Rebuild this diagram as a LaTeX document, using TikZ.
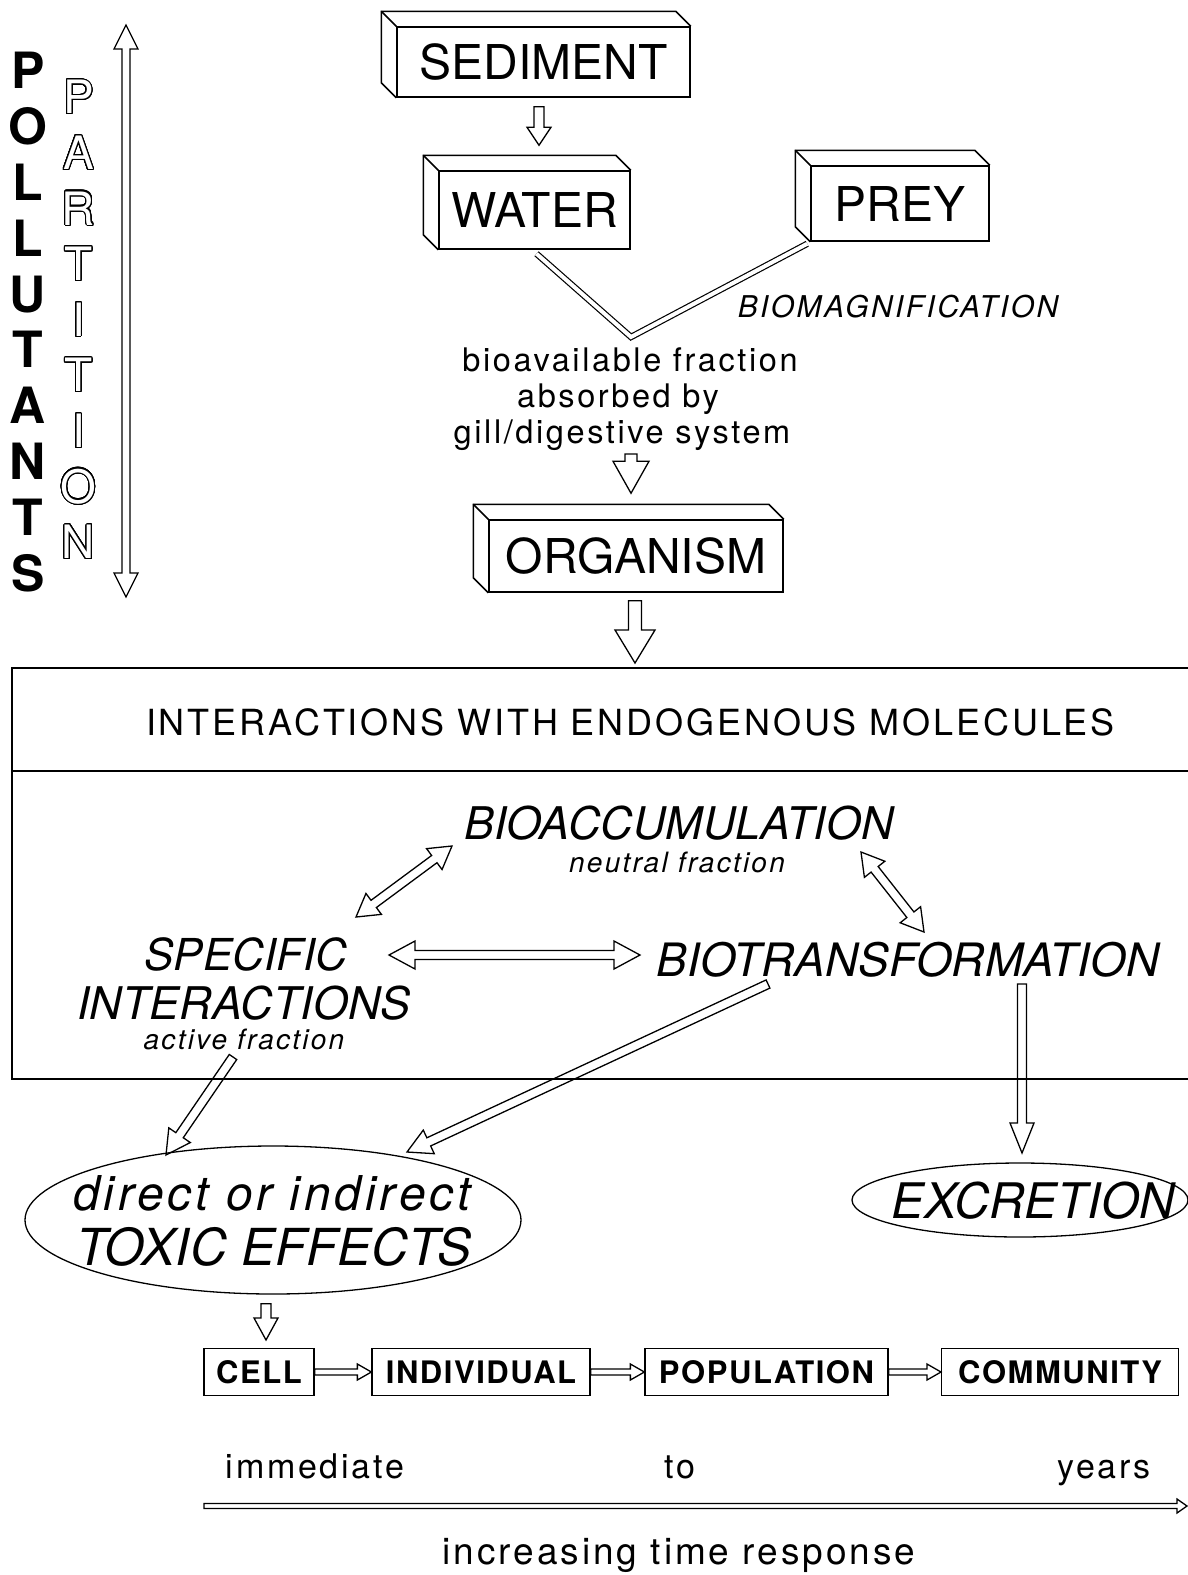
\documentclass[tikz,border=0pt]{standalone}
\usepackage{fontspec}
\usepackage{contour}
\usetikzlibrary{calc,shapes.geometric}
\newfontfamily\hv{TeX Gyre Heros}
\newfontfamily\hvs[LetterSpace=8]{TeX Gyre Heros}
\newfontfamily\hvb[LetterSpace=5]{TeX Gyre Heros}
\contourlength{1.1pt}
\contournumber{32}
\newcommand\fsz[1]{\fontsize{#1}{#1}\selectfont}
\newcommand\outl[1]{\contour{black}{#1}}
\tikzset{
  ln/.style={line width=1.5pt, line join=miter},
  bigbox/.style={draw, line width=1.5pt, inner sep=0pt, font=\hv\fsz{48}},
  lvl/.style={draw, line width=1.3pt, inner sep=0pt, minimum height=47pt, font=\hvb\bfseries\fsz{31}},
  arrline/.style={line width=1.3pt, line join=miter},
  lbl/.style={inner sep=0pt, anchor=base},
  dline/.style={double, double distance=4pt, line width=1.2pt},
  ell/.style={draw, ellipse, line width=1.3pt, inner sep=0pt},
}
\newcommand\boxfaces[1]{%
  \draw[ln] (#1.south west) -- ++(-15,-15) |- ($(#1.north east)+(-15,-15)$) -- (#1.north east);
  \draw[ln] (#1.north west) -- ++(-15,-15);
}
% single block arrow: [opts]{from}{to}{shaft half}{head half}{head length}
\newcommand\blockarrow[6][]{%
  \coordinate (bac) at ($(#3)!#6!(#2)$);
  \draw[arrline,#1] ($(#2)!#4!90:(#3)$) -- ($(bac)!#4!-90:(#2)$) -- ($(bac)!#5!-90:(#2)$) -- (#3)
    -- ($(bac)!#5!90:(#2)$) -- ($(bac)!#4!90:(#2)$) -- ($(#2)!#4!-90:(#3)$) -- cycle;
}
\newcommand\dblockarrow[6][]{%
  \coordinate (bac) at ($(#3)!#6!(#2)$);
  \coordinate (bad) at ($(#2)!#6!(#3)$);
  \draw[arrline,#1] (#2) -- ($(bad)!#5!90:(#3)$) -- ($(bad)!#4!90:(#3)$) -- ($(bac)!#4!-90:(#2)$)
    -- ($(bac)!#5!-90:(#2)$) -- (#3) -- ($(bac)!#5!90:(#2)$) -- ($(bac)!#4!90:(#2)$)
    -- ($(bad)!#4!-90:(#3)$) -- ($(bad)!#5!-90:(#3)$) -- cycle;
}
\begin{document}
\begin{tikzpicture}[x=1pt,y=-1pt]
\useasboundingbox[fill=white] (0,0) rectangle (1188,1575);

% left column
\node[inner sep=0pt, align=center, font=\hv\bfseries\fontsize{50}{55.8}\selectfont] (poll) at (28,322)
  {P\\O\\L\\L\\U\\T\\A\\N\\T\\S};
\node[inner sep=0pt, align=center, text=white, font=\hv\fontsize{46}{55.6}\selectfont] (part) at (78.5,320)
  {\outl{P}\\\outl{A}\\\outl{R}\\\outl{T}\\\outl{I}\\\outl{T}\\\outl{I}\\\outl{O}\\\outl{N}};
\coordinate (pa) at (126,25);
\coordinate (pb) at (126,597);
\dblockarrow{pa}{pb}{4pt}{12pt}{24pt}

% top boxes
\node[bigbox, minimum width=293pt, minimum height=70pt] (sed) at (543.5,62) {SEDIMENT};
\boxfaces{sed}
\node[bigbox, minimum width=191pt, minimum height=78pt] (wat) at (534.5,210) {WATER};
\boxfaces{wat}
\node[bigbox, minimum width=178pt, minimum height=75pt] (prey) at (900,203.5) {PREY};
\boxfaces{prey}

\coordinate (a1s) at ($(sed.south)+(-4.5,9)$);
\coordinate (a1e) at ($(wat.north)+(4.5,-25)$);
\blockarrow{a1s}{a1e}{5pt}{12pt}{18pt}

\coordinate (vw) at ($(wat.south)+(2,4)$);
\coordinate (vp) at ($(prey.south west)+(-3,2)$);
\coordinate (v) at (631,337);
\draw[dline] (vw) -- (v) -- (vp);

\node[lbl, font=\hvs\itshape\fsz{30}] (biomag) at (898,317) {BIOMAGNIFICATION};

\node[lbl, font=\hvs\fsz{32.5}] (t1) at (630,371) {bioavailable fraction};
\node[lbl, font=\hvs\fsz{32.5}] (t2) at (618,407) {absorbed by};
\node[lbl, font=\hvs\fsz{32.5}] (t3) at (622,443) {gill/digestive system};

\node[bigbox, minimum width=294pt, minimum height=72pt] (org) at (636,556) {ORGANISM};
\boxfaces{org}
\coordinate (a2s) at (631,454);
\coordinate (a2e) at ($(org.north)+(-5,-26)$);
\blockarrow{a2s}{a2e}{6pt}{18pt}{32pt}
\coordinate (a3s) at ($(org.south)+(-1,8)$);
\coordinate (a3e) at (635,663);
\blockarrow{a3s}{a3e}{6.5pt}{20pt}{33pt}

% big frame
\coordinate (ftr) at (1190,668);
\coordinate (ftl) at (12,668);
\coordinate (fbl) at (12,1079);
\coordinate (fbr) at (1190,1079);
\draw[ln] (ftr) -- (ftl) -- (fbl) -- (fbr);
\draw[ln] (12,771) -- (1190,771);
\node[lbl, font=\hvs\fsz{36}] (title) at (630.5,735) {INTERACTIONS WITH ENDOGENOUS MOLECULES};

\node[lbl, font=\hv\itshape\fsz{45}] (bioacc) at (679,839) {BIOACCUMULATION};
\node[lbl, font=\hvs\itshape\fsz{28}] (neut) at (677,872) {neutral fraction};
\node[lbl, font=\hv\itshape\fsz{44}] (spec1) at (246,970) {SPECIFIC};
\node[lbl, font=\hv\itshape\fsz{45}] (spec2) at (244,1019) {INTERACTIONS};
\node[lbl, font=\hvs\itshape\fsz{28}] (act) at (244,1049) {active fraction};
\node[lbl, font=\hv\itshape\fsz{46}] (biot) at (908,976) {BIOTRANSFORMATION};

\coordinate (d1a) at (452,846); \coordinate (d1b) at (356,917);
\dblockarrow{d1a}{d1b}{4.5pt}{13pt}{22pt}
\coordinate (d2a) at (861,852); \coordinate (d2b) at (924,932);
\dblockarrow{d2a}{d2b}{4.5pt}{13pt}{22pt}
\coordinate (d3a) at (389,955); \coordinate (d3b) at (640,955);
\dblockarrow{d3a}{d3b}{4.5pt}{14pt}{26pt}

\coordinate (s1a) at (233,1057); \coordinate (s1b) at (166,1155);
\blockarrow{s1a}{s1b}{4.5pt}{13pt}{24pt}
\coordinate (s2a) at (768,984); \coordinate (s2b) at (407,1152);
\blockarrow{s2a}{s2b}{4.5pt}{13pt}{24pt}
\coordinate (s3a) at (1022,984); \coordinate (s3b) at (1022,1153);
\blockarrow{s3a}{s3b}{4.5pt}{12pt}{30pt}

% outcomes
\node[ell, minimum width=496pt, minimum height=148pt] (tox) at (273,1220) {};
\node[lbl, font=\hvs\itshape\fsz{48}] (tox1) at (272,1210) {direct or indirect};
\node[lbl, font=\hv\itshape\fsz{51}] (tox2) at (274,1265) {TOXIC EFFECTS};
\node[ell, minimum width=336pt, minimum height=74pt] (exc) at (1020,1200) {};
\node[lbl, font=\hv\itshape\fsz{49}] (exct) at (1033,1218) {EXCRETION};

\coordinate (s4a) at ($(tox.south)+(-7,9)$); \coordinate (s4b) at (266,1340);
\blockarrow{s4a}{s4b}{5pt}{12pt}{22pt}

% levels
\node[lvl, minimum width=110pt] (cell) at (259,1372) {CELL};
\node[lvl, minimum width=218pt] (ind) at (481,1372) {INDIVIDUAL};
\node[lvl, minimum width=243pt] (pop) at (766.5,1372) {POPULATION};
\node[lvl, minimum width=237pt, anchor=west] (com) at (941,1372) {COMMUNITY};
\blockarrow{cell.east}{ind.west}{3pt}{8pt}{14pt}
\blockarrow{ind.east}{pop.west}{3pt}{8pt}{14pt}
\blockarrow{pop.east}{com.west}{3pt}{8pt}{14pt}

% time axis
\node[lbl, font=\hvs\fsz{34}] (imm) at (315,1478) {immediate};
\node[lbl, font=\hvs\fsz{34}] (tto) at (680,1478) {to};
\node[lbl, font=\hvs\fsz{34}] (yrs) at (1104,1478) {years};
\coordinate (ta) at (204,1506); \coordinate (tb) at (1187,1506);
\blockarrow{ta}{tb}{2.5pt}{7pt}{10pt}
\node[lbl, font=\hvs\fsz{37}] (inc) at (679,1564) {increasing time response};
\end{tikzpicture}
\end{document}
